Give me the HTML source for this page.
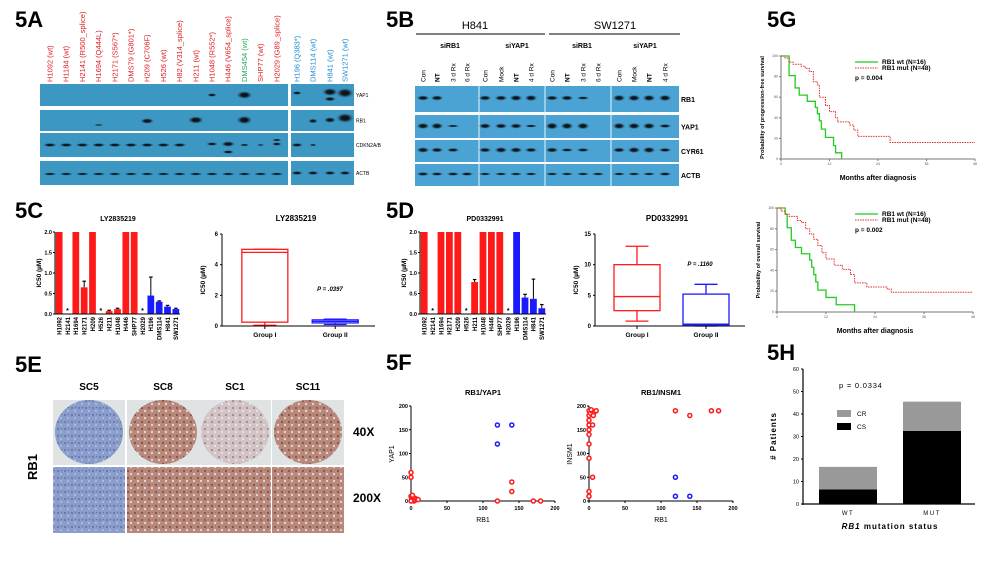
<!DOCTYPE html>
<html><head><meta charset="utf-8"><style>
html,body{margin:0;padding:0;background:#fff;}
svg{display:block;font-family:"Liberation Sans",Arial,sans-serif;}
.pl{font-size:22px;font-weight:bold;fill:#000;}
</style></head><body>
<svg id="fig" width="1000" height="562" viewBox="0 0 1000 562">
<defs>
<radialGradient id="band" cx="50%" cy="50%" r="50%"><stop offset="0" stop-color="#0a0f14"/><stop offset="0.45" stop-color="#121c24"/><stop offset="1" stop-color="#2a6a8f" stop-opacity="0"/></radialGradient>
<pattern id="texB" width="7" height="7" patternUnits="userSpaceOnUse"><rect width="7" height="7" fill="#8a9dcb"/><circle cx="2" cy="2" r="1.1" fill="#6579b0"/><circle cx="5" cy="5" r="1" fill="#b4c0df"/><circle cx="5.5" cy="1.5" r="0.6" fill="#5a6ea8"/></pattern>
<pattern id="texR" width="7" height="7" patternUnits="userSpaceOnUse"><rect width="7" height="7" fill="#b98a7c"/><circle cx="2" cy="2" r="1.2" fill="#8d5646"/><circle cx="5" cy="5" r="1.1" fill="#e6dadb"/><circle cx="5.5" cy="1.5" r="0.6" fill="#9a7890"/></pattern>
<pattern id="texL" width="7" height="7" patternUnits="userSpaceOnUse"><rect width="7" height="7" fill="#d2c4c6"/><circle cx="2" cy="2" r="1.1" fill="#a88686"/><circle cx="5" cy="5" r="1" fill="#efe9ea"/></pattern>
</defs>
<text class="pl" x="15" y="27">5A</text>
<text class="pl" x="386" y="27">5B</text>
<text class="pl" x="767" y="27">5G</text>
<text class="pl" x="15" y="218">5C</text>
<text class="pl" x="386" y="218">5D</text>
<text class="pl" x="15" y="372">5E</text>
<text class="pl" x="386" y="370">5F</text>
<text class="pl" x="767" y="360">5H</text>
<g id="g5a"></g>
<g id="g5b"></g>
<g id="g5c"></g>
<g id="g5d"></g>
<g id="g5e"></g>
<g id="g5f"></g>
<g id="g5g"></g>
<g id="g5h"></g>
</svg>
<script>
// ---------- data ----------
const lyCats = ["H1092","H2141","H1694","H2171","H209","H526","H211","H1048","H446","SHP77","H2029","H196","DMS114","H841","SW1271"];
const lyVals = [2.0,0,2.0,0.65,2.0,0,0.07,0.12,2.0,2.0,0,0.45,0.30,0.18,0.12];
const lyErr  = [0,0,0,0.15,0,0,0.02,0.02,0,0,0,0.45,0.02,0.03,0.02];
const pdCats = ["H1092","H2141","H1694","H2171","H209","H526","H211","H1048","H446","SHP77","H2029","H196","DMS114","H841","SW1271"];
const pdVals = [2.0,0,2.0,2.0,2.0,0,0.78,2.0,2.0,2.0,0,2.0,0.40,0.37,0.14];
const pdErr  = [0,0,0,0,0,0,0.06,0,0,0,0,0,0.08,0.48,0.09];
const barGroup = ["I","*","I","I","I","*","I","I","I","I","*","II","II","II","II"];
const barTicks = [0,0.5,1.0,1.5,2.0];
const lyBoxI  = [0.05,0.25,4.8,5.0,5.0];
const lyBoxII = [0.1,0.2,0.3,0.4,0.45];
const lyBoxTicks = [0,2,4,6];
const pdBoxI  = [0.8,2.5,4.8,10,13];
const pdBoxII = [0,0.2,0.3,5.2,6.8];
const pdBoxTicks = [0,5,10,15];
const yapRedX = [0,0,0,1,2,3,4,5,6,8,10,0,2,120,140,140,170,180];
const yapRedY = [60,50,10,5,8,3,0,6,2,4,3,0,12,0,40,20,0,0];
const yapBlueX = [120,140,120];
const yapBlueY = [160,160,120];
const insRedX = [0,0,0,0,0,0,0,0,5,5,0,0,2,4,6,8,10,3,120,140,170,180];
const insRedY = [190,180,170,160,150,140,120,90,160,50,20,10,185,190,180,188,190,192,190,180,190,190];
const insBlueX = [120,120,140];
const insBlueY = [50,10,10];
const scatTicks = [0,50,100,150,200];
const pfsWtT = [0,2,3.5,4.5,6.5,8.5,9,9.5,10,11,13,13.5,15];
const pfsWtS = [100,81,69,62,56,50,44,37,29,21,13,6,0];
const pfsMutT = [0,1,2,3,5,6,7,8,9,9.5,11,12,13.5,14,17,18,19,26,27,48];
const pfsMutS = [100,98,94,92,90,88,85,75,72,60,52,46,40,36,33,28,22,22,16,16];
const osWtT = [0,2,2.5,3.5,4.5,6,8,8.5,9,9.5,10,12,14.5,19];
const osWtS = [100,94,81,69,62,56,50,43,36,29,21,14,7,0];
const osMutT = [0,1,2,3,5,6,7,8,9,10,11,12,14,16,18,19,22,27,28,48];
const osMutS = [100,97,94,92,88,86,80,75,70,64,57,51,45,41,36,28,24,22,19,19];
const kmXTicks = [0,12,24,36,48];
const kmYTicks = [0,20,40,60,80,100];
const hCats = ["WT","MUT"];
const hCS = [6.5,32.5];
const hCR = [10,13];
const hTicks = [0,10,20,30,40,50,60];

// ---------- helpers ----------
const NS="http://www.w3.org/2000/svg";
function el(parent,tag,attrs,text){const e=document.createElementNS(NS,tag);for(const k in attrs)e.setAttribute(k,attrs[k]);if(text!==undefined)e.textContent=text;parent.appendChild(e);return e;}
function lin(d0,d1,r0,r1){return v=>r0+(v-d0)*(r1-r0)/(d1-d0);}
const RED="#ff1a1a",BLUE="#1a1aff";

// ---------- 5A ----------
(function(){
 const g=document.getElementById('g5a');
 const names=["H1092 (wt)","H1184 (wt)","H2141 (R500_splice)","H1694 (Q444L)","H2171 (S567*)","DMS79 (G801*)","H209 (C706F)","H526 (wt)","H82 (V314_splice)","H211 (wt)","H1048 (R552*)","H446 (V654_splice)","DMS454 (wt)","SHP77 (wt)","H2029 (G89_splice)"];
 const cols=names.map((n,i)=>i==12?"#22aa55":"#e02020");
 const rnames=["H196 (Q383*)","DMS114 (wt)","H841 (wt)","SW1271 (wt)"];
 const lx=names.map((n,i)=>50+i*16.2), rx=[297,313,330,345];
 names.forEach((n,i)=>{const t=el(g,'text',{x:0,y:0,transform:`translate(${lx[i]+2.5},82) rotate(-90)`,'font-size':'7.5',fill:cols[i]},n);
  });
 rnames.forEach((n,i)=>{const t=el(g,'text',{x:0,y:0,transform:`translate(${rx[i]+2.5},82) rotate(-90)`,'font-size':'7.5',fill:'#2090d0'},n);
  });
 const rows=[[84,106,"YAP1"],[110,131,"RB1"],[133,157,"CDKN2A/B"],[161,185,"ACTB"]];
 rows.forEach(r=>{
  const a=el(g,'rect',{x:40,y:r[0],width:248,height:r[1]-r[0],fill:'#3d97c3'});
  const b=el(g,'rect',{x:291,y:r[0],width:63,height:r[1]-r[0],fill:'#3d97c3'});
  const t=el(g,'text',{x:356,y:(r[0]+r[1])/2+2,'font-size':'5',fill:'#000'},r[2]);
 });
 const bands=[[lx[10],95,5,1.8],[lx[12],95,8,4],[rx[0],93,5,1.8],[rx[2],92,8,4],[rx[2],99,6,2.3],[rx[3],93,9,5],
  [lx[3],125,5,0.9],[lx[6],121,7,2.8],[lx[9],120,8,3.8],[lx[12],120,8,4.3],[rx[1],121,5,2.3],[rx[2],120,6,2.8],[rx[3],118,9,5]];
 for(let i=0;i<9;i++)bands.push([lx[i],145,7,2]);
 bands.push([lx[10],144,6,1.8],[lx[11],144,7,2.8],[lx[11],152,6,1.8],[lx[12],145,5,1.3],[lx[13],145,4,0.9],[lx[14],140,5,1.3],[lx[14],144,5,1.8],[rx[0],145,6,2],[rx[1],145,4,1.1]);
 for(let i=0;i<15;i++)bands.push([lx[i],174,7,1.5]);
 rx.forEach(x=>bands.push([x,173,6,2]));
 bands.forEach(b=>{const e=el(g,'ellipse',{cx:b[0],cy:b[1],rx:b[2],ry:b[3],fill:'url(#band)'});});
})();

// ---------- 5B ----------
(function(){
 const g=document.getElementById('g5b');
 el(g,'text',{x:475,y:29,'font-size':'11','text-anchor':'middle'},"H841");
 el(g,'text',{x:615,y:29,'font-size':'11','text-anchor':'middle'},"SW1271");
 el(g,'line',{x1:416,y1:34,x2:545,y2:34,stroke:'#000','stroke-width':1});
 el(g,'line',{x1:549,y1:34,x2:680,y2:34,stroke:'#000','stroke-width':1});
 [[450,"siRB1"],[517,"siYAP1"],[582,"siRB1"],[645,"siYAP1"]].forEach(s=>el(g,'text',{x:s[0],y:48,'font-size':'7','font-weight':'bold','text-anchor':'middle'},s[1]));
 const lanes=[423,437,453,467,485,501,516,531,552,567,583,598,619,634,649,665];
 const lab=["Con","NT","3 d Rx","6 d Rx","Con","Mock","NT","4 d Rx","Con","NT","3 d Rx","6 d Rx","Con","Mock","NT","4 d Rx"];
 lab.forEach((l,i)=>{const t=el(g,'text',{transform:`translate(${lanes[i]+2.5},82) rotate(-90)`,'font-size':'6.5','font-weight':l=="NT"?'bold':'normal'},l);});
 const rows=[[86,112,"RB1"],[115,138,"YAP1"],[140,162,"CYR61"],[164,186,"ACTB"]];
 rows.forEach(r=>{const a=el(g,'rect',{x:415,y:r[0],width:264,height:r[1]-r[0],fill:'#4aa3d3'});
  const t=el(g,'text',{x:681,y:(r[0]+r[1])/2+3,'font-size':'7','font-weight':'bold'},r[2]);});
 [479,545,611].forEach(x=>el(g,'line',{x1:x,y1:86,x2:x,y2:186,stroke:'#e8f4fb','stroke-width':1}));
 const I=[[1,1,0,0,1,1,1.3,1.3,0.9,1,0.4,0,1.4,1.4,1.4,1.4],[1.3,1.4,0.2,0,1.1,1,1,0.3,1.6,1.5,1.5,0,1.4,1.4,1.4,0.6],[1.1,0.9,0.7,0,0.9,1.2,1.1,0.8,1,0.5,0.6,0,0.9,1.3,1.3,0.7],[0.6,0.5,0.5,0.5,0.3,0.3,0.3,0.3,0.3,0.3,0.3,0.3,0.3,0.3,0.3,0.5]];
 const cy=[98,126,150,174];
 I.forEach((row,r)=>row.forEach((v,i)=>{if(v>0){const e=el(g,'ellipse',{cx:lanes[i],cy:cy[r],rx:6.5,ry:1+1.6*v,fill:'url(#band)'});}}));
})();

// ---------- bar charts 5C/5D ----------
function barChart(g,title,tx,ax,axEnd,vals,errs,cats){
 const y=lin(0,2,314,232), slot=(axEnd-ax)/vals.length;
 el(g,'text',{x:tx,y:221,'font-size':'7','font-weight':'bold','text-anchor':'middle'},title);
 vals.forEach((v,i)=>{const x0=ax+i*slot+0.8;const c=barGroup[i]=="II"?BLUE:RED;
  if(barGroup[i]=="*"){el(g,'text',{x:x0+slot/2-0.8,y:313,'font-size':'7','text-anchor':'middle','font-weight':'bold'},"*");}
  else{const b=el(g,'rect',{x:x0,y:y(v),width:slot-1.6,height:314-y(v),fill:c});
   if(errs[i]>0){el(g,'line',{x1:x0+slot/2-0.8,y1:y(v),x2:x0+slot/2-0.8,y2:y(v+errs[i]),stroke:'#000','stroke-width':1});el(g,'line',{x1:x0+slot/2-2.5,y1:y(v+errs[i]),x2:x0+slot/2+1,y2:y(v+errs[i]),stroke:'#000','stroke-width':1.2});}}
  const t=el(g,'text',{transform:`translate(${x0+slot/2+1.5},317) rotate(-90)`,'font-size':'6','text-anchor':'end','font-weight':'bold'},cats[i]);
 });
 el(g,'line',{x1:ax,y1:232,x2:ax,y2:314.5,stroke:'#000','stroke-width':1});
 el(g,'line',{x1:ax,y1:314,x2:axEnd,y2:314,stroke:'#000','stroke-width':1});
 barTicks.forEach(t=>{el(g,'line',{x1:ax-2,y1:y(t),x2:ax,y2:y(t),stroke:'#000'});el(g,'text',{x:ax-3,y:y(t)+2,'font-size':'5.5','text-anchor':'end','font-weight':'bold'},t.toFixed(1));});
 const yl=el(g,'text',{transform:`translate(${ax-14},273) rotate(-90)`,'font-size':'6.5','text-anchor':'middle','font-weight':'bold'},"IC50 (µM)");
}
function boxChart(g,title,tx,ax,axEnd,max,ticks,b1,b2,c1,c2,ptxt,px,py){
 const y=lin(0,max,326,234);
 el(g,'text',{x:tx,y:221,'font-size':'8','font-weight':'bold','text-anchor':'middle'},title);
 [[b1,c1,0],[b2,c2,1]].forEach(([b,c,k])=>{
  const cx=k?ax+(axEnd-ax)*0.74:ax+(axEnd-ax)*0.28,w=46;
  const gb=el(g,'g',{});
  el(gb,'line',{x1:cx,y1:y(b[0]),x2:cx,y2:y(b[4]),stroke:c,'stroke-width':1.3});
  el(gb,'line',{x1:cx-w/4,y1:y(b[0]),x2:cx+w/4,y2:y(b[0]),stroke:c,'stroke-width':1.3});
  el(gb,'line',{x1:cx-w/4,y1:y(b[4]),x2:cx+w/4,y2:y(b[4]),stroke:c,'stroke-width':1.3});
  el(gb,'rect',{x:cx-w/2,y:y(b[3]),width:w,height:Math.max(1,y(b[1])-y(b[3])),fill:'#fff',stroke:c,'stroke-width':1.3});
  el(gb,'line',{x1:cx-w/2,y1:y(b[2]),x2:cx+w/2,y2:y(b[2]),stroke:c,'stroke-width':1.3});
  el(g,'line',{x1:cx,y1:326,x2:cx,y2:329,stroke:'#000'});
  el(g,'text',{x:cx,y:337,'font-size':'6.5','text-anchor':'middle','font-weight':'bold'},k?"Group II":"Group I");
 });
 el(g,'line',{x1:ax,y1:234,x2:ax,y2:326.5,stroke:'#000','stroke-width':1});
 el(g,'line',{x1:ax,y1:326,x2:axEnd,y2:326,stroke:'#000','stroke-width':1});
 ticks.forEach(t=>{el(g,'line',{x1:ax-2,y1:y(t),x2:ax,y2:y(t),stroke:'#000'});el(g,'text',{x:ax-4,y:y(t)+2,'font-size':'6','text-anchor':'end','font-weight':'bold'},t);});
 el(g,'text',{transform:`translate(${ax-17},280) rotate(-90)`,'font-size':'6.5','text-anchor':'middle','font-weight':'bold'},"IC50 (µM)");
 el(g,'text',{x:px,y:py,'font-size':'6','font-weight':'bold','font-style':'italic','text-anchor':'middle'},ptxt);
}
barChart(document.getElementById('g5c'),"LY2835219",118,55,180,lyVals,lyErr,lyCats);
boxChart(document.getElementById('g5c'),"LY2835219",296,222,375,6,lyBoxTicks,lyBoxI,lyBoxII,RED,BLUE,"P = .0397",330,291);
barChart(document.getElementById('g5d'),"PD0332991",485,420,546,pdVals,pdErr,pdCats);
boxChart(document.getElementById('g5d'),"PD0332991",667,595,745,15,pdBoxTicks,pdBoxI,pdBoxII,RED,BLUE,"P = .1160",700,266);

// ---------- 5E ----------
(function(){
 const g=document.getElementById('g5e');
 const xs=[53,127,199,272],w=72;
 ["SC5","SC8","SC1","SC11"].forEach((s,i)=>{const t=el(g,'text',{x:xs[i]+w/2,y:390,'font-size':'10','font-weight':'bold','text-anchor':'middle'},s);
  const bg=el(g,'rect',{x:xs[i],y:400,width:w,height:65,fill:'#dfe3e4'});
  el(g,'ellipse',{cx:xs[i]+w/2,cy:432,rx:34,ry:32,fill:i==0?'url(#texB)':(i==2?'url(#texL)':'url(#texR)')});
  const r2=el(g,'rect',{x:xs[i],y:467,width:w,height:66,fill:i==0?'url(#texB)':'url(#texR)'});
 });
 el(g,'text',{x:353,y:436,'font-size':'12','font-weight':'bold'},"40X");
 el(g,'text',{x:353,y:502,'font-size':'12','font-weight':'bold'},"200X");
 el(g,'text',{transform:'translate(37,467) rotate(-90)','font-size':'13','font-weight':'bold','text-anchor':'middle'},"RB1");
})();

// ---------- 5F ----------
function scatter(g,title,x0,ylab,rx,ry,bx,by){
 const x=lin(0,200,x0,x0+144),y=lin(0,200,501,406);
 el(g,'text',{x:x0+72,y:395,'font-size':'7.5','font-weight':'bold','text-anchor':'middle'},title);
 el(g,'line',{x1:x0,y1:406,x2:x0,y2:501,stroke:'#000'});el(g,'line',{x1:x0,y1:501,x2:x0+144,y2:501,stroke:'#000'});
 scatTicks.forEach(t=>{el(g,'text',{x:x(t),y:510,'font-size':'5.5','font-weight':'bold','text-anchor':'middle'},t);el(g,'line',{x1:x(t),y1:501,x2:x(t),y2:503,stroke:'#000'});
  el(g,'text',{x:x0-3,y:y(t)+2,'font-size':'5.5','font-weight':'bold','text-anchor':'end'},t);el(g,'line',{x1:x0-2,y1:y(t),x2:x0,y2:y(t),stroke:'#000'});});
 el(g,'text',{x:x0+72,y:522,'font-size':'7','text-anchor':'middle'},"RB1");
 el(g,'text',{transform:`translate(${x0-17},454) rotate(-90)`,'font-size':'7','text-anchor':'middle'},ylab);
 rx.forEach((v,i)=>{const c=el(g,'circle',{cx:x(v),cy:y(ry[i]),r:2,fill:'#fff',stroke:RED,'stroke-width':1.5});});
 bx.forEach((v,i)=>{const c=el(g,'circle',{cx:x(v),cy:y(by[i]),r:2,fill:'#fff',stroke:BLUE,'stroke-width':1.5});});
}
scatter(document.getElementById('g5f'),"RB1/YAP1",411,"YAP1",yapRedX,yapRedY,yapBlueX,yapBlueY);
scatter(document.getElementById('g5f'),"RB1/INSM1",589,"INSM1",insRedX,insRedY,insBlueX,insBlueY);

// ---------- 5G ----------
function km(g,x0,x1,yTop,yBot,ylab,wt,mut,p){
 const x=lin(0,48,x0,x1),y=lin(0,100,yBot,yTop);
 el(g,'line',{x1:x0,y1:yTop,x2:x0,y2:yBot,stroke:'#777'});el(g,'line',{x1:x0,y1:yBot,x2:x1,y2:yBot,stroke:'#777'});
 kmXTicks.forEach(t=>{el(g,'line',{x1:x(t),y1:yBot,x2:x(t),y2:yBot+2,stroke:'#777'});el(g,'text',{x:x(t),y:yBot+6,'font-size':'3.5','text-anchor':'middle',fill:'#555'},t);});
 kmYTicks.forEach(t=>{el(g,'line',{x1:x0-2,y1:y(t),x2:x0,y2:y(t),stroke:'#777'});el(g,'text',{x:x0-3,y:y(t)+1,'font-size':'3.5','text-anchor':'end',fill:'#555'},t);});
 el(g,'text',{x:(x0+x1)/2,y:yBot+21,'font-size':'7','font-weight':'bold','text-anchor':'middle'},"Months after diagnosis");
 el(g,'text',{transform:`translate(${x0-17},${(yTop+yBot)/2}) rotate(-90)`,'font-size':'5.5','font-weight':'bold','text-anchor':'middle'},ylab);
 function path(T,S){let d=`M${x(T[0])},${y(S[0])}`;for(let i=1;i<T.length;i++){d+=`H${x(T[i])}V${y(S[i])}`;}return d;}
 const a=el(g,'path',{d:path(wt[0],wt[1]),fill:'none',stroke:'#22cc22','stroke-width':1.3});
 const b=el(g,'path',{d:path(mut[0],mut[1]),fill:'none',stroke:'#e03030','stroke-width':1,'stroke-dasharray':'1.5,1'});
 el(g,'line',{x1:855,y1:yTop+6,x2:878,y2:yTop+6,stroke:'#22cc22','stroke-width':1.3});
 el(g,'line',{x1:855,y1:yTop+12,x2:878,y2:yTop+12,stroke:'#e03030','stroke-dasharray':'1.5,1'});
 el(g,'text',{x:882,y:yTop+8,'font-size':'6.5','font-weight':'bold'},"RB1 wt (N=16)");
 el(g,'text',{x:882,y:yTop+14,'font-size':'6.5','font-weight':'bold'},"RB1 mut (N=48)");
 el(g,'text',{x:855,y:yTop+24,'font-size':'6.5','font-weight':'bold'},p);
}
km(document.getElementById('g5g'),781,975,56,159,"Probability of progression-free survival",[pfsWtT,pfsWtS],[pfsMutT,pfsMutS],"p = 0.004");
km(document.getElementById('g5g'),777,973,208,312,"Probability of overall survival",[osWtT,osWtS],[osMutT,osMutS],"p = 0.002");

// ---------- 5H ----------
(function(){
 const g=document.getElementById('g5h');
 const y=lin(0,60,504,369),ax=803,axEnd=975,cx=[848,932],w=58;
 hCats.forEach((c,i)=>{
  const a=el(g,'rect',{x:cx[i]-w/2,y:y(hCS[i]),width:w,height:504-y(hCS[i]),fill:'#000'});
  const b=el(g,'rect',{x:cx[i]-w/2,y:y(hCS[i]+hCR[i]),width:w,height:y(hCS[i])-y(hCS[i]+hCR[i]),fill:'#999'});
  el(g,'text',{x:cx[i],y:515,'font-size':'6','text-anchor':'middle','letter-spacing':'1.5'},c);
 });
 el(g,'line',{x1:ax,y1:369,x2:ax,y2:505,stroke:'#000','stroke-width':1.2});el(g,'line',{x1:ax,y1:504,x2:axEnd,y2:504,stroke:'#000','stroke-width':1.2});
 hTicks.forEach(t=>{el(g,'line',{x1:ax-2,y1:y(t),x2:ax,y2:y(t),stroke:'#000'});el(g,'text',{x:ax-4,y:y(t)+2,'font-size':'5.5','text-anchor':'end'},t);});
 el(g,'text',{transform:'translate(776,436) rotate(-90)','font-size':'8','font-weight':'bold','text-anchor':'middle','letter-spacing':'1'},"# Patients");
 el(g,'text',{x:890,y:529,'font-size':'8','font-weight':'bold','text-anchor':'middle','letter-spacing':'1'},"RB1 mutation status").innerHTML='<tspan font-style="italic">RB1</tspan> mutation status';
 el(g,'text',{x:839,y:388,'font-size':'7.5','letter-spacing':'0.8'},"p = 0.0334");
 el(g,'rect',{x:837,y:410,width:14,height:7,fill:'#999'});el(g,'text',{x:857,y:416,'font-size':'6.5'},"CR");
 el(g,'rect',{x:837,y:423,width:14,height:7,fill:'#000'});el(g,'text',{x:857,y:429,'font-size':'6.5'},"CS");
})();
</script>
</body></html>
